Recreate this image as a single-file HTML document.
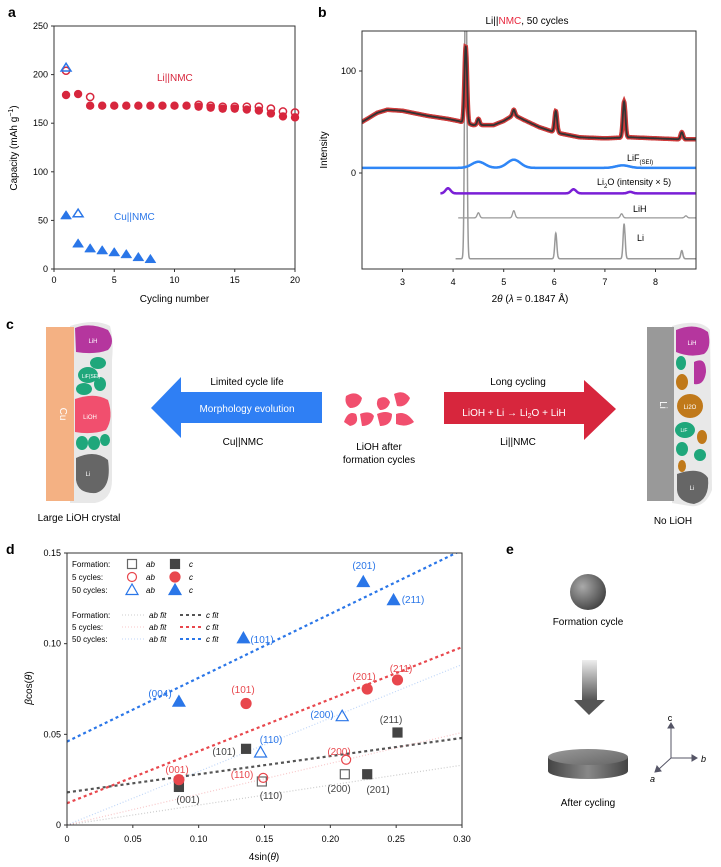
<!DOCTYPE html>
<html><head><meta charset="utf-8">
<style>
html,body{margin:0;padding:0;background:#fff;}
svg{display:block;font-family:"Liberation Sans",sans-serif;}
text{font-family:"Liberation Sans",sans-serif;}
</style></head>
<body>
<svg id="fig" width="721" height="867" viewBox="0 0 721 867" xmlns="http://www.w3.org/2000/svg">
<defs>
<radialGradient id="sph" cx="0.35" cy="0.35" r="0.7"><stop offset="0" stop-color="#aaa"/><stop offset="1" stop-color="#444"/></radialGradient>
<linearGradient id="arr" x1="0" y1="0" x2="0" y2="1"><stop offset="0" stop-color="#eee"/><stop offset="1" stop-color="#555"/></linearGradient>
<linearGradient id="disk" x1="0" y1="0" x2="1" y2="0"><stop offset="0" stop-color="#444"/><stop offset="0.5" stop-color="#888"/><stop offset="1" stop-color="#444"/></linearGradient>
<linearGradient id="diskTop" x1="0" y1="0" x2="1" y2="1"><stop offset="0" stop-color="#999"/><stop offset="1" stop-color="#666"/></linearGradient>
</defs>

<text x="8" y="17" font-size="14" font-weight="bold">a</text>
<text x="318" y="17" font-size="14" font-weight="bold">b</text>
<text x="6" y="329" font-size="14" font-weight="bold">c</text>
<text x="6" y="554" font-size="14" font-weight="bold">d</text>
<text x="506" y="554" font-size="14" font-weight="bold">e</text>

<g id="panelA"></g>
<g id="panelB"></g>

<!-- Panel c -->
<g>
  <g>
    <path d="M70,326 Q95,318 110,326 Q114,340 112,360 L112,480 Q112,500 95,503 L70,503 Z" fill="#e8e8e8"/>
    <rect x="46" y="327" width="28" height="174" fill="#f4b183"/>
    <text x="60" y="414" font-size="10" fill="#fff" text-anchor="middle" transform="rotate(90 60 414)">Cu</text>
    <path d="M75,328 Q90,322 108,330 Q116,342 108,350 Q95,355 76,352 Z" fill="#b5369e"/>
    <text x="93" y="343" font-size="6" fill="#fff" text-anchor="middle">LiH</text>
    <ellipse cx="98" cy="363" rx="8" ry="6" fill="#1fa77b"/>
    <ellipse cx="88" cy="375" rx="10" ry="8" fill="#1fa77b"/>
    <ellipse cx="84" cy="389" rx="8" ry="6" fill="#1fa77b"/>
    <ellipse cx="100" cy="384" rx="6" ry="7" fill="#1fa77b"/>
    <text x="91" y="378" font-size="5" fill="#fff" text-anchor="middle">LiF(SEI)</text>
    <path d="M75,399 Q95,392 108,400 Q114,418 106,430 Q92,435 75,432 Z" fill="#f14f6e"/>
    <text x="90" y="419" font-size="6" fill="#fff" text-anchor="middle">LiOH</text>
    <ellipse cx="82" cy="443" rx="6" ry="7" fill="#1fa77b"/>
    <ellipse cx="94" cy="443" rx="6" ry="7" fill="#1fa77b"/>
    <ellipse cx="105" cy="440" rx="5" ry="6" fill="#1fa77b"/>
    <path d="M76,458 Q95,449 108,460 Q112,488 96,493 Q78,494 76,480 Z" fill="#666"/>
    <text x="88" y="476" font-size="6" fill="#fff" text-anchor="middle">Li</text>
  </g>
  <text x="79" y="521" font-size="10" text-anchor="middle">Large LiOH crystal</text>

  <g>
    <polygon points="151,408 181,377 181,392 322,392 322,423 181,423 181,438" fill="#2f7ff4"/>
  </g>
  <text x="247" y="385" font-size="10" text-anchor="middle">Limited cycle life</text>
  <text x="247" y="412" font-size="10" fill="#fff" text-anchor="middle">Morphology evolution</text>
  <text x="243" y="445" font-size="10" text-anchor="middle">Cu||NMC</text>

  <g fill="#f14f6e">
    <path d="M346,396 Q356,390 362,398 Q360,408 350,408 Q344,404 346,396 Z"/>
    <path d="M378,399 Q386,394 390,402 Q388,410 380,410 Q375,405 378,399 Z"/>
    <path d="M394,394 Q404,389 410,398 Q406,408 397,406 Z"/>
    <path d="M344,422 Q348,410 356,414 Q360,424 350,426 Z"/>
    <path d="M360,414 Q370,410 374,416 Q372,426 362,426 Z"/>
    <path d="M377,414 Q386,410 392,414 Q392,426 380,426 Z"/>
    <path d="M396,414 Q406,410 414,422 Q406,428 396,424 Z"/>
  </g>
  <text x="379" y="450" font-size="10" text-anchor="middle">LiOH after</text>
  <text x="379" y="463" font-size="10" text-anchor="middle">formation cycles</text>

  <g>
    <polygon points="444,392 584,392 584,380 616,409 584,440 584,424 444,424" fill="#d7263d"/>
  </g>
  <text x="518" y="385" font-size="10" text-anchor="middle">Long cycling</text>
  <text x="514" y="416" font-size="10" fill="#fff" text-anchor="middle">LiOH + Li → Li<tspan font-size="7" dy="2">2</tspan><tspan dy="-2">O + LiH</tspan></text>
  <text x="518" y="445" font-size="10" text-anchor="middle">Li||NMC</text>

  <g>
    <path d="M672,326 Q700,318 710,330 L712,490 Q705,508 690,506 L672,503 Z" fill="#e8e8e8"/>
    <rect x="647" y="327" width="27" height="174" fill="#999"/>
    <text x="660" y="405" font-size="10" fill="#fff" text-anchor="middle" transform="rotate(90 660 405)">Li</text>
    <path d="M676,330 Q695,322 708,332 Q712,348 704,354 Q690,358 676,352 Z" fill="#b5369e"/>
    <text x="692" y="345" font-size="6" fill="#fff" text-anchor="middle">LiH</text>
    <ellipse cx="681" cy="363" rx="5" ry="7" fill="#1fa77b"/>
    <path d="M694,362 Q706,356 706,372 Q704,386 694,384 Z" fill="#b5369e"/>
    <ellipse cx="682" cy="382" rx="6" ry="8" fill="#c0791a"/>
    <ellipse cx="690" cy="406" rx="13" ry="12" fill="#c0791a"/>
    <text x="690" y="409" font-size="6" fill="#fff" text-anchor="middle">Li2O</text>
    <ellipse cx="685" cy="430" rx="10" ry="8" fill="#1fa77b"/>
    <text x="684" y="432" font-size="5" fill="#fff" text-anchor="middle">LiF</text>
    <ellipse cx="702" cy="437" rx="5" ry="7" fill="#c0791a"/>
    <ellipse cx="682" cy="449" rx="6" ry="7" fill="#1fa77b"/>
    <ellipse cx="700" cy="455" rx="6" ry="6" fill="#1fa77b"/>
    <ellipse cx="682" cy="466" rx="4" ry="6" fill="#c0791a"/>
    <path d="M677,474 Q700,466 708,478 Q710,500 694,504 Q678,502 677,490 Z" fill="#666"/>
    <text x="692" y="490" font-size="6" fill="#fff" text-anchor="middle">Li</text>
  </g>
  <text x="673" y="524" font-size="10" text-anchor="middle">No LiOH</text>
</g>

<g id="panelD"></g>

<!-- Panel e -->
<g>
  <circle cx="588" cy="592" r="18" fill="url(#sph)"/>
  <text x="588" y="625" font-size="10" text-anchor="middle">Formation cycle</text>
  <rect x="582" y="660" width="15" height="40" fill="url(#arr)"/>
  <polygon points="574,700 605,700 589,715" fill="#555"/>
  <path d="M548,757 L548,771 A40,8 0 0 0 628,771 L628,757 Z" fill="url(#disk)"/>
  <ellipse cx="588" cy="757" rx="40" ry="8" fill="url(#diskTop)"/>
  <text x="588" y="806" font-size="10" text-anchor="middle">After cycling</text>
  <g stroke="#556" stroke-width="1" fill="#556">
    <line x1="671" y1="758" x2="671" y2="726"/><polygon points="668,728 674,728 671,723"/>
    <line x1="671" y1="758" x2="693" y2="758"/><polygon points="692,755 692,761 697,758"/>
    <line x1="671" y1="758" x2="659" y2="769"/><polygon points="657,766 661,771 655,772"/>
  </g>
  <text x="670" y="721" font-size="9" text-anchor="middle">c</text>
  <text x="701" y="762" font-size="9" font-style="italic">b</text>
  <text x="650" y="782" font-size="9" font-style="italic">a</text>
</g>
</svg>

<script>
// ===== Panel a data =====
const aLiDisCycles = [1,2,3,4,5,6,7,8,9,10,11,12,13,14,15,16,17,18,19,20];
const aLiDis = [179,180,168,168,168,168,168,168,168,168,168,167,166,165,165,164,163,160,157,156];
const aLiChgCycles = [1,3,12,13,14,15,16,17,18,19,20];
const aLiChg = [204,177,169,168,167,167,167,167,165,162,161];
const aCuDisCycles = [1,2,3,4,5,6,7,8];
const aCuDis = [55,26,21,19,17,15,12,10];
const aCuChgCycles = [1,2];
const aCuChg = [207,57];
const aXTicks = [0,5,10,15,20];
const aYTicks = [0,50,100,150,200,250];

// ===== Panel b data =====
const bMainBgX = [2.2,2.5,2.7,3.0,3.5,3.9,4.1,4.4,4.8,5.0,5.2,5.4,5.7,6.0,6.5,7.0,7.5,8.0,8.5,8.8];
const bMainBgY = [50,59,62,61,56,53,51,47,47,51,57,52,45,40,35,34,35,34,33,33];
const bMainPeakPos = [4.25,4.5,5.2,6.03,7.38,8.52];
const bMainPeakH = [75,6,5,21,35,7];
const bLiFPeakPos = [4.5,5.2,7.35];
const bLiFPeakH = [6,8,2.5];
const bLi2OPeakPos = [3.9,6.38,7.5];
const bLi2OPeakH = [5,4,1.5];
const bLiHPeakPos = [4.5,5.2,7.33,8.6];
const bLiHPeakH = [5,7,4,2];
const bLiPeakPos = [4.25,6.03,7.38,8.52];
const bLiPeakH = [330,25,34,8];
const bXTicks = [3,4,5,6,7,8];
const bYTicks = [0,100];

// ===== Panel d data =====
const dFormAbX = [0.148,0.211];
const dFormAbY = [0.024,0.028];
const dFormCX = [0.085,0.136,0.228,0.251];
const dFormCY = [0.021,0.042,0.028,0.051];
const d5AbX = [0.149,0.212];
const d5AbY = [0.026,0.036];
const d5CX = [0.085,0.136,0.228,0.251];
const d5CY = [0.025,0.067,0.075,0.080];
const d50AbX = [0.147,0.209];
const d50AbY = [0.040,0.060];
const d50CX = [0.085,0.134,0.225,0.248];
const d50CY = [0.068,0.103,0.134,0.124];
const dFitCIntercept = [0.018,0.012,0.046];
const dFitCSlope = [0.10,0.287,0.352];
const dFitAbIntercept = [0.0,0.0,0.0];
const dFitAbSlope = [0.11,0.17,0.295];
const dXTicks = [0,0.05,0.10,0.15,0.20,0.25,0.30];
const dYTicks = [0,0.05,0.10,0.15];

const NS = 'http://www.w3.org/2000/svg';
function mk(parent, tag, attrs, txt){
  const e = document.createElementNS(NS, tag);
  for (const k in attrs) e.setAttribute(k, attrs[k]);
  if (txt !== undefined) e.textContent = txt;
  parent.appendChild(e);
  return e;
}
const RED = '#d7263d', BLUE = '#2a76e8', GRAY = '#555';

// ---------- Panel a ----------
(function(){
  const g = document.getElementById('panelA');
  const x0=54,x1=295,y0=269,y1=26;
  const ax = v => x0 + v/20*(x1-x0);
  const ay = v => y0 - v/250*(y0-y1);
  const fr = mk(g,'rect',{x:x0,y:y1,width:x1-x0,height:y0-y1,fill:'none',stroke:'#333','stroke-width':1});
  
  
  aXTicks.forEach(t=>{
    mk(g,'line',{x1:ax(t),x2:ax(t),y1:y0,y2:y0+3,stroke:'#333'});
    const tl = mk(g,'text',{x:ax(t),y:y0+14,'font-size':9,'text-anchor':'middle'},String(t));
    
    
  });
  aYTicks.forEach(t=>{
    mk(g,'line',{x1:x0-3,x2:x0,y1:ay(t),y2:ay(t),stroke:'#333'});
    const tl = mk(g,'text',{x:x0-6,y:ay(t)+3,'font-size':9,'text-anchor':'end'},String(t));
    
    
  });
  const xt = mk(g,'text',{x:(x0+x1)/2,y:302,'font-size':10,'text-anchor':'middle'},'Cycling number');
  
  
  const yt = mk(g,'text',{x:0,y:0,'font-size':10,'text-anchor':'middle',transform:'translate(17,148) rotate(-90)'});
  
  
  yt.innerHTML = 'Capacity (mAh g<tspan font-size="7" dy="-4">−1</tspan><tspan dy="4">)</tspan>';
  aLiChgCycles.forEach((c,i)=>{
    const m = mk(g,'circle',{cx:ax(c),cy:ay(aLiChg[i]),r:3.6,fill:'none',stroke:RED,'stroke-width':1.5});
    
    
  });
  aLiDisCycles.forEach((c,i)=>{
    const m = mk(g,'circle',{cx:ax(c),cy:ay(aLiDis[i]),r:4.2,fill:RED});
    
    
  });
  function tri(cx,cy,s,filled){
    return mk(g,'polygon',{points:`${cx},${cy-s} ${cx-s*1.1},${cy+s*0.7} ${cx+s*1.1},${cy+s*0.7}`,
      fill:filled?BLUE:'none',stroke:BLUE,'stroke-width':filled?0.5:1.5});
  }
  aCuChgCycles.forEach((c,i)=>{
    const m = tri(ax(c),ay(aCuChg[i]),4.5,false);
    
    
  });
  aCuDisCycles.forEach((c,i)=>{
    const m = tri(ax(c),ay(aCuDis[i]),5,true);
    
    
  });
  const l1 = mk(g,'text',{x:157,y:81,'font-size':10,fill:RED},'Li||NMC');
  
  
  const l2 = mk(g,'text',{x:114,y:220,'font-size':10,fill:BLUE},'Cu||NMC');
  
  
})();

// ---------- Panel b ----------
(function(){
  const g = document.getElementById('panelB');
  const x0=362,x1=696,yT=31,yB=269;
  const bx = v => x0 + (v-2.2)/(8.8-2.2)*(x1-x0);
  const by = v => 173 - v*1.02;
  const clip = mk(g,'clipPath',{id:'bclip'});
  mk(clip,'rect',{x:x0,y:yT,width:x1-x0,height:yB-yT});
  const plot = mk(g,'g',{'clip-path':'url(#bclip)'});
  function interp(xs,ys,x){
    if (x<=xs[0]) return ys[0];
    for (let i=1;i<xs.length;i++) if (x<=xs[i]){const t=(x-xs[i-1])/(xs[i]-xs[i-1]);return ys[i-1]+t*(ys[i]-ys[i-1]);}
    return ys[ys.length-1];
  }
  function peaks(pos,h,x,w){let s=0;pos.forEach((p,i)=>{const d=(x-p)/w;s+=h[i]*Math.exp(-d*d/2);});return s;}
  function trace(start,fn){
    const pts=[];
    for(let x=start;x<=8.8;x+=0.004) pts.push([bx(x),by(fn(x))]);
    return pts;
  }
  const toPath = pts => 'M'+pts.map(p=>p[0].toFixed(1)+','+p[1].toFixed(1)).join('L');
  const li = mk(plot,'path',{d:toPath(trace(4.05,x=>-84+peaks(bLiPeakPos,bLiPeakH,x,0.02))),fill:'none',stroke:'#999','stroke-width':1.5});
  
  
  const lih = mk(plot,'path',{d:toPath(trace(4.1,x=>-44+peaks(bLiHPeakPos,bLiHPeakH,x,0.025))),fill:'none',stroke:'#999','stroke-width':1.3});
  
  
  const li2o = mk(plot,'path',{d:toPath(trace(3.75,x=>-20+peaks(bLi2OPeakPos,bLi2OPeakH,x,0.05))),fill:'none',stroke:'#7a1fd6','stroke-width':2.5});
  
  
  const lif = mk(plot,'path',{d:toPath(trace(2.2,x=>5+peaks(bLiFPeakPos,bLiFPeakH,x,0.13))),fill:'none',stroke:'#2f86f6','stroke-width':2.5});
  
  
  const mainFn = x => interp(bMainBgX,bMainBgY,x)+peaks(bMainPeakPos,bMainPeakH,x,0.025);
  const mainPts = trace(2.2,mainFn);
  const dots = mk(plot,'path',{d:toPath(mainPts),fill:'none',stroke:'#cf3b3b','stroke-width':4.5,'stroke-linecap':'round'});
  
  
  const fit = mk(plot,'path',{d:toPath(mainPts),fill:'none',stroke:'#333','stroke-width':1.8});
  
  
  const fr = mk(g,'rect',{x:x0,y:yT,width:x1-x0,height:yB-yT,fill:'none',stroke:'#333'});
  
  
  bXTicks.forEach(t=>{
    mk(g,'line',{x1:bx(t),x2:bx(t),y1:yB,y2:yB+3,stroke:'#333'});
    const tl = mk(g,'text',{x:bx(t),y:yB+16,'font-size':9,'text-anchor':'middle'},String(t));
    
    
  });
  bYTicks.forEach(t=>{
    mk(g,'line',{x1:x0-3,x2:x0,y1:by(t),y2:by(t),stroke:'#333'});
    const tl = mk(g,'text',{x:x0-6,y:by(t)+3,'font-size':9,'text-anchor':'end'},String(t));
    
    
  });
  const xt = mk(g,'text',{x:530,y:302,'font-size':10,'text-anchor':'middle'});
  
  
  xt.innerHTML = '2<tspan font-style="italic">θ</tspan> (<tspan font-style="italic">λ</tspan> = 0.1847 Å)';
  const yt = mk(g,'text',{x:0,y:0,'font-size':10,'text-anchor':'middle',transform:'translate(327,150) rotate(-90)'},'Intensity');
  
  
  const tt = mk(g,'text',{x:527,y:24,'font-size':10,'text-anchor':'middle'});
  
  
  tt.innerHTML = 'Li||<tspan fill="#e8273d">NMC</tspan>, 50 cycles';
  const t1 = mk(g,'text',{x:627,y:161,'font-size':9});
  
  
  t1.innerHTML = 'LiF<tspan font-size="6" dy="3">(SEI)</tspan>';
  const t2 = mk(g,'text',{x:597,y:185,'font-size':9});
  
  
  t2.innerHTML = 'Li<tspan font-size="6" dy="3">2</tspan><tspan dy="-3">O (intensity × 5)</tspan>';
  const t3 = mk(g,'text',{x:633,y:212,'font-size':9},'LiH');
  
  
  const t4 = mk(g,'text',{x:637,y:241,'font-size':9},'Li');
  
  
})();

// ---------- Panel d ----------
(function(){
  const g = document.getElementById('panelD');
  const x0=67,x1=462,y0=825,y1=553;
  const dx = v => x0 + v/0.3*(x1-x0);
  const dy = v => y0 - v/0.15*(y0-y1);
  const cols = [GRAY,'#e8474d',BLUE];
  const clip = mk(g,'clipPath',{id:'dclip'});
  mk(clip,'rect',{x:x0,y:y1,width:x1-x0,height:y0-y1});
  const plot = mk(g,'g',{'clip-path':'url(#dclip)'});
  [0,1,2].forEach(i=>{
    const ab = mk(plot,'line',{x1:dx(0),y1:dy(dFitAbIntercept[i]),x2:dx(0.3),y2:dy(dFitAbIntercept[i]+dFitAbSlope[i]*0.3),stroke:cols[i],'stroke-opacity':0.3,'stroke-width':1.2,'stroke-dasharray':'1 2'});
    
    
    const c = mk(plot,'line',{x1:dx(0),y1:dy(dFitCIntercept[i]),x2:dx(0.3),y2:dy(dFitCIntercept[i]+dFitCSlope[i]*0.3),stroke:cols[i],'stroke-width':2.2,'stroke-dasharray':'3 3'});
    
    
  });
  const fr = mk(g,'rect',{x:x0,y:y1,width:x1-x0,height:y0-y1,fill:'none',stroke:'#333'});
  
  
  dXTicks.forEach(t=>{
    mk(g,'line',{x1:dx(t),x2:dx(t),y1:y0,y2:y0+3,stroke:'#333'});
    const tl = mk(g,'text',{x:dx(t),y:y0+17,'font-size':9,'text-anchor':'middle'},t===0?'0':t.toFixed(2));
    
    
  });
  dYTicks.forEach(t=>{
    mk(g,'line',{x1:x0-3,x2:x0,y1:dy(t),y2:dy(t),stroke:'#333'});
    const tl = mk(g,'text',{x:x0-6,y:dy(t)+3,'font-size':9,'text-anchor':'end'},t===0?'0':t.toFixed(2));
    
    
  });
  const xt = mk(g,'text',{x:264,y:860,'font-size':10,'text-anchor':'middle'});
  
  
  xt.innerHTML = '4sin(<tspan font-style="italic">θ</tspan>)';
  const yt = mk(g,'text',{x:0,y:0,'font-size':10,'text-anchor':'middle',transform:'translate(32,688) rotate(-90)'});
  
  
  yt.innerHTML = '<tspan font-style="italic">β</tspan>cos(<tspan font-style="italic">θ</tspan>)';
  function marker(shape,cx,cy,col,filled){
    if (shape==='sq') return mk(g,'rect',{x:cx-4.5,y:cy-4.5,width:9,height:9,fill:filled?'#444':'none',stroke:filled?'#444':'#666','stroke-width':1.2});
    if (shape==='ci') return mk(g,'circle',{cx:cx,cy:cy,r:filled?5:4.5,fill:filled?col:'none',stroke:col,'stroke-width':1.2});
    return mk(g,'polygon',{points:`${cx},${cy-6} ${cx-6},${cy+4.5} ${cx+6},${cy+4.5}`,fill:filled?col:'none',stroke:col,'stroke-width':1.2});
  }
  const sets = [
    ['sq',dFormAbX,dFormAbY,GRAY,false,'formation-ab-point'],
    ['sq',dFormCX,dFormCY,GRAY,true,'formation-c-point'],
    ['ci',d5AbX,d5AbY,'#e8474d',false,'5-cycles-ab-point'],
    ['ci',d5CX,d5CY,'#e8474d',true,'5-cycles-c-point'],
    ['tr',d50AbX,d50AbY,BLUE,false,'50-cycles-ab-point'],
    ['tr',d50CX,d50CY,BLUE,true,'50-cycles-c-point']
  ];
  sets.forEach(s=>{
    s[1].forEach((xv,i)=>{
      const m = marker(s[0],dx(xv),dy(s[2][i]),s[3],s[4]);
      
      
    });
  });
  const labs = [
    [364,565,'(201)',BLUE],[413,599,'(211)',BLUE],[262,639,'(101)',BLUE],[401,668,'(211)','#e8474d'],
    [364,676,'(201)','#e8474d'],[160,693,'(004)',BLUE],[243,689,'(101)','#e8474d'],[322,714,'(200)',BLUE],
    [391,719,'(211)','#444'],[271,739,'(110)',BLUE],[224,751,'(101)','#444'],[339,751,'(200)','#e8474d'],
    [177,769,'(001)','#e8474d'],[242,774,'(110)','#e8474d'],[339,788,'(200)','#444'],[378,789,'(201)','#444'],
    [188,799,'(001)','#444'],[271,795,'(110)','#444']
  ];
  labs.forEach(l=>{
    const t = mk(g,'text',{x:l[0],y:l[1]+4,'font-size':10,'text-anchor':'middle',fill:l[3]},l[2]);
    
    
  });
  const lg = mk(g,'g',{});
  
  
  const rows = [['Formation:',GRAY,'sq'],['5 cycles:','#e8474d','ci'],['50 cycles:',BLUE,'tr']];
  rows.forEach((r,i)=>{
    const y = 564 + i*13;
    mk(lg,'text',{x:72,y:y+3,'font-size':8},r[0]);
    const m1 = marker(r[2],132,y,r[1],false); lg.appendChild(m1);
    mk(lg,'text',{x:146,y:y+3,'font-size':8,'font-style':'italic'},'ab');
    const m2 = marker(r[2],175,y,r[1],true); lg.appendChild(m2);
    mk(lg,'text',{x:189,y:y+3,'font-size':8,'font-style':'italic'},'c');
    const y2 = 615 + i*12;
    mk(lg,'text',{x:72,y:y2+3,'font-size':8},r[0]);
    mk(lg,'line',{x1:122,x2:146,y1:y2,y2:y2,stroke:r[1],'stroke-opacity':0.3,'stroke-dasharray':'1 2'});
    mk(lg,'text',{x:149,y:y2+3,'font-size':8,'font-style':'italic'},'ab fit');
    mk(lg,'line',{x1:180,x2:203,y1:y2,y2:y2,stroke:r[1],'stroke-width':2,'stroke-dasharray':'3 3'});
    mk(lg,'text',{x:206,y:y2+3,'font-size':8,'font-style':'italic'},'c fit');
  });
})();
</script>
</body></html>
